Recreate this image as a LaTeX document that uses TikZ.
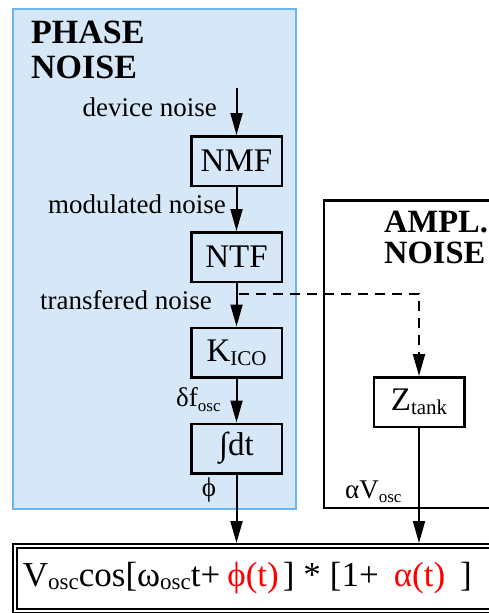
\documentclass[tikz,border=0pt]{standalone}
\usepackage{fontspec}
\setmainfont{Liberation Serif}
\usetikzlibrary{arrows.meta}
\definecolor{phasefill}{HTML}{D6E8F8}
\definecolor{phaseline}{HTML}{6CB4EE}
\newcommand\lowsub[3]{\raisebox{-#1}{\fontsize{#2}{#2}\selectfont #3}}
\begin{document}
\begin{tikzpicture}[x=1pt,y=-1pt,
  blockbox/.style={draw, line width=2.5pt, minimum width=90.5pt, minimum height=49.5pt, inner sep=0pt, font=\fontsize{33}{33}\selectfont},
  lbl/.style={inner sep=0pt, font=\fontsize{27}{27}\selectfont},
  ttl/.style={inner sep=0pt, font=\fontsize{34}{35}\selectfont\bfseries},
  flow/.style={line width=2pt, -{Triangle[length=22pt,width=12pt]}},
  dashflow/.style={flow, dash pattern=on 10pt off 7pt},
]
\clip (0,0) rectangle (489,613);
\fill[white] (0,0) rectangle (489,613);
\draw[fill=phasefill, draw=phaseline, line width=2pt] (13,9) rectangle (296,509);
\draw[line width=2.5pt] (500,200.5) -- (324,200.5) -- (324,508) -- (500,508);

\node[ttl, anchor=base west] (tphase) at (31,43) {\begin{tabular}[t]{@{}l@{}}PHASE\\NOISE\end{tabular}};
\node[inner sep=0pt, anchor=base west] (tampl) at (384,232) {\fontsize{32.5}{31}\selectfont\bfseries\begin{tabular}[t]{@{}l@{}}AMPL.\\NOISE\end{tabular}};

\node[blockbox] (nmf) at (236.5,161) {NMF};
\node[blockbox] (ntf) at (236.5,257) {NTF};
\node[blockbox] (kico) at (236.5,352.5) {K\lowsub{4pt}{21}{ICO}};
\node[blockbox] (intg) at (236.5,448.5) {∫dt};
\node[blockbox] (ztank) at (419,402) {Z\lowsub{4pt}{21}{tank}};

\node[draw, double, line width=1.7pt, double distance=2.5pt, outer sep=2.95pt, anchor=north west,
  minimum width=500pt, minimum height=65pt, text width=484pt, inner xsep=8pt, inner ysep=17pt,
  text height=24pt, text depth=7pt, align=left, font=\fontsize{35}{35}\selectfont] (eq) at (12,543)
  {V\lowsub{3pt}{23}{osc}cos[ω\lowsub{3pt}{23}{osc}t+\hspace{7pt}\textcolor{red}{ϕ(t)}\hspace{4pt}]\hspace{9pt}*\hspace{9pt}[1+\hspace{15pt}\textcolor{red}{α(t)}\hspace{15pt}]};

\node[lbl, anchor=base east] (ldev) at (217,116) {device noise};
\node[lbl, anchor=base east] (lmod) at (226,213) {modulated noise};
\node[lbl, anchor=base east] (ltr) at (212,309) {transfered noise};
\node[lbl, anchor=base west] (ldf) at (176,406) {δf\lowsub{5pt}{17}{osc}};
\node[lbl, anchor=base] (lphi) at (209,496) {ϕ};
\node[lbl, anchor=base west] (lav) at (345,498) {αV\lowsub{4pt}{17}{osc}};

\coordinate (src) at (236.5,88);
\coordinate (tap) at (239,294);
\draw[flow] (src) -- (nmf);
\draw[flow] (nmf) -- (ntf);
\draw[flow] (ntf) -- (kico);
\draw[flow] (kico) -- (intg);
\draw[dashflow] (tap) -| (ztank);
\draw[flow] (intg) -- (intg |- eq.north);
\draw[flow] (ztank) -- (ztank |- eq.north);
\end{tikzpicture}
\end{document}
